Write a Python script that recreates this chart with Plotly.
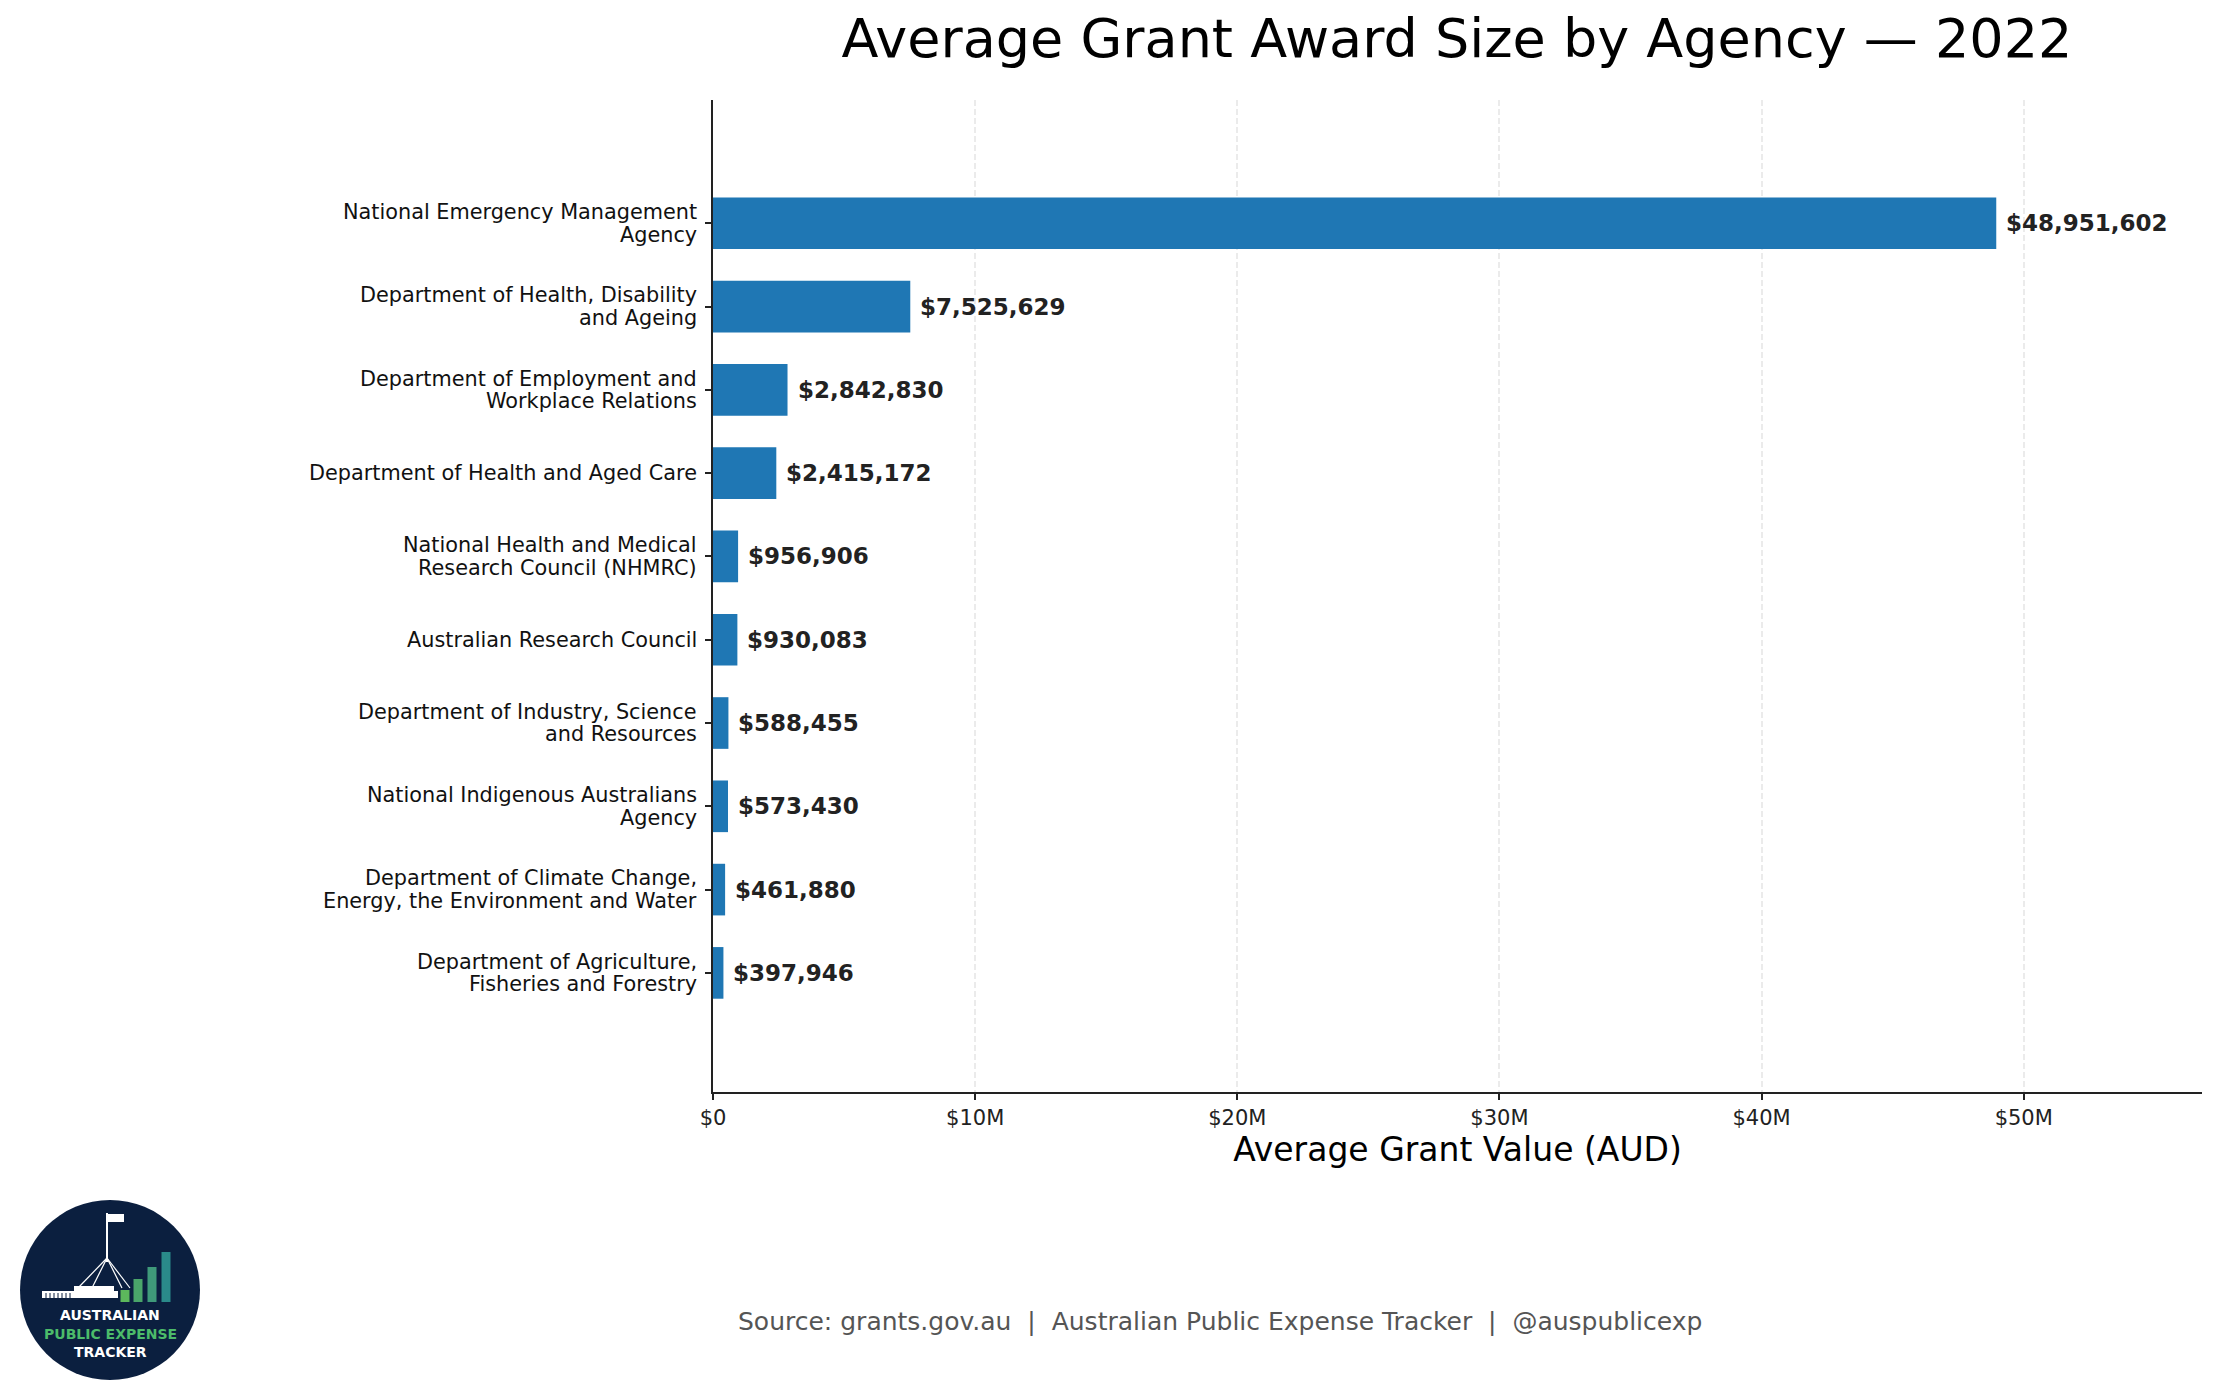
import plotly.graph_objects as go

# agencies, top to bottom
agencies = [
    "National Emergency Management<br>Agency",
    "Department of Health, Disability<br>and Ageing",
    "Department of Employment and<br>Workplace Relations",
    "Department of Health and Aged Care",
    "National Health and Medical<br>Research Council (NHMRC)",
    "Australian Research Council",
    "Department of Industry, Science<br>and Resources",
    "National Indigenous Australians<br>Agency",
    "Department of Climate Change,<br>Energy, the Environment and Water",
    "Department of Agriculture,<br>Fisheries and Forestry",
]
avg_grant = [48951602, 7525629, 2842830, 2415172, 956906,
             930083, 588455, 573430, 461880, 397946]

x_ticks = [0, 10e6, 20e6, 30e6, 40e6, 50e6]
x_tick_labels = ["$0", "$10M", "$20M", "$30M", "$40M", "$50M"]

# the page body has an 8px margin, so the figure is drawn 8px smaller
OFF = 8
W, H = 2215 - OFF, 1399 - OFF
L, R, T, B = 713 - OFF, 2202 - OFF, 100 - OFF, 1092 - OFF  # plot area
FONT = "DejaVu Sans"
BAR_COLOR = "#1f77b4"


def px(x):
    return (x - OFF - L) / (R - L)


def py(y):
    return (B - (y - OFF)) / (B - T)


fig = go.Figure()
fig.add_trace(go.Bar(
    y=agencies, x=avg_grant, orientation="h",
    marker=dict(color=BAR_COLOR, line_width=0),
    width=0.62, hoverinfo="skip", showlegend=False))

# value labels at bar ends
for a, v in zip(agencies, avg_grant):
    fig.add_annotation(x=v, y=a, text="<b>$" + f"{v:,.0f}" + "</b>",
                       showarrow=False, xanchor="left", yanchor="middle",
                       xshift=8, font=dict(family=FONT, size=23, color="#222222"))

# agency labels drawn line by line (tighter line spacing than plotly ticks)
for a in agencies:
    lines = a.split("<br>")
    n = len(lines)
    for i, ln in enumerate(lines):
        fig.add_annotation(x=0, xref="paper", y=a, yref="y", text=ln,
                           showarrow=False, xanchor="right", yanchor="middle",
                           xshift=-14, yshift=(n - 1) / 2 * 22.6 - i * 22.6,
                           font=dict(family=FONT, size=20.8, color="#111111"))

fig.update_layout(
    width=W, height=H,
    margin=dict(l=L, r=W - R, t=T, b=H - B, autoexpand=False),
    paper_bgcolor="white", plot_bgcolor="white",
    font=dict(family=FONT, color="#222222"),
    title=dict(text="Average Grant Award Size by Agency — 2022",
               x=(1457 - OFF) / W, xanchor="center", xref="container",
               y=1 - (38 - OFF) / H, yanchor="middle", yref="container",
               font=dict(family=FONT, size=54, color="black")),
)

fig.update_xaxes(
    range=[0, 56.8e6], tickvals=x_ticks, ticktext=x_tick_labels,
    showgrid=True, gridcolor="#ebebeb", griddash="6px,3px", gridwidth=2,
    showline=True, linecolor="#222222", linewidth=1.7,
    ticks="outside", ticklen=6, tickwidth=1.5, tickcolor="#222222",
    tickfont=dict(size=21, color="#222222"), zeroline=False,
    title=dict(text="Average Grant Value (AUD)", standoff=8,
               font=dict(size=33, color="black")),
)
fig.update_yaxes(
    type="category", categoryorder="array", categoryarray=agencies,
    range=[9 + 1.43, -1.48], showgrid=False, showticklabels=False,
    showline=True, linecolor="#222222", linewidth=1.7,
    ticks="outside", ticklen=6, tickwidth=1.5, tickcolor="#222222",
    zeroline=False,
)

# source line
fig.add_annotation(
    text="Source: grants.gov.au  |  Australian Public Expense Tracker  |  @auspublicexp",
    xref="paper", yref="paper", x=px(1220), y=py(1321), showarrow=False,
    xanchor="center", yanchor="middle",
    font=dict(family=FONT, size=25, color="#555555"))

# logo badge
cx, cy, r = 110, 1290, 90
fig.add_shape(type="circle", xref="paper", yref="paper",
              x0=px(cx - r), x1=px(cx + r), y0=py(cy + r), y1=py(cy - r),
              fillcolor="#0b1f3f", line_width=0, layer="above")
# parliament building
fig.add_shape(type="rect", xref="paper", yref="paper",
              x0=px(42), x1=px(118), y0=py(1298), y1=py(1291),
              fillcolor="white", line_width=0, layer="above")
fig.add_shape(type="rect", xref="paper", yref="paper",
              x0=px(74), x1=px(114), y0=py(1291), y1=py(1286),
              fillcolor="white", line_width=0, layer="above")
for wx in range(46, 72, 4):
    fig.add_shape(type="line", xref="paper", yref="paper",
                  x0=px(wx), x1=px(wx), y0=py(1298), y1=py(1293),
                  line=dict(color="#0b1f3f", width=1), layer="above")
fig.add_shape(type="line", xref="paper", yref="paper",
              x0=px(107), x1=px(107), y0=py(1262), y1=py(1213),
              line=dict(color="white", width=2), layer="above")
fig.add_shape(type="rect", xref="paper", yref="paper",
              x0=px(108), x1=px(124), y0=py(1222), y1=py(1214),
              fillcolor="white", line_width=0, layer="above")
for lx in [78, 92, 122, 130]:
    fig.add_shape(type="line", xref="paper", yref="paper",
                  x0=px(107), x1=px(lx), y0=py(1258), y1=py(1288),
                  line=dict(color="white", width=1.2), layer="above")
# little bars
logo_bars = [(125, 1290, "#5cb85c"), (138, 1279, "#4aa56a"),
             (152, 1267, "#3f9a7a"), (166, 1252, "#2a8a8a")]
for bx, top, col in logo_bars:
    fig.add_shape(type="rect", xref="paper", yref="paper",
                  x0=px(bx - 4.5), x1=px(bx + 4.5), y0=py(1302), y1=py(top),
                  fillcolor=col, line_width=0, layer="above")
for txt, yy, col in [("AUSTRALIAN", 1315, "white"),
                     ("PUBLIC EXPENSE", 1334, "#4cbb6a"),
                     ("TRACKER", 1352, "white")]:
    fig.add_annotation(text="<b>" + txt + "</b>", xref="paper", yref="paper",
                       x=px(cx), y=py(yy), showarrow=False,
                       xanchor="center", yanchor="middle",
                       font=dict(family=FONT, size=14, color=col))

fig.write_html("out.html")
